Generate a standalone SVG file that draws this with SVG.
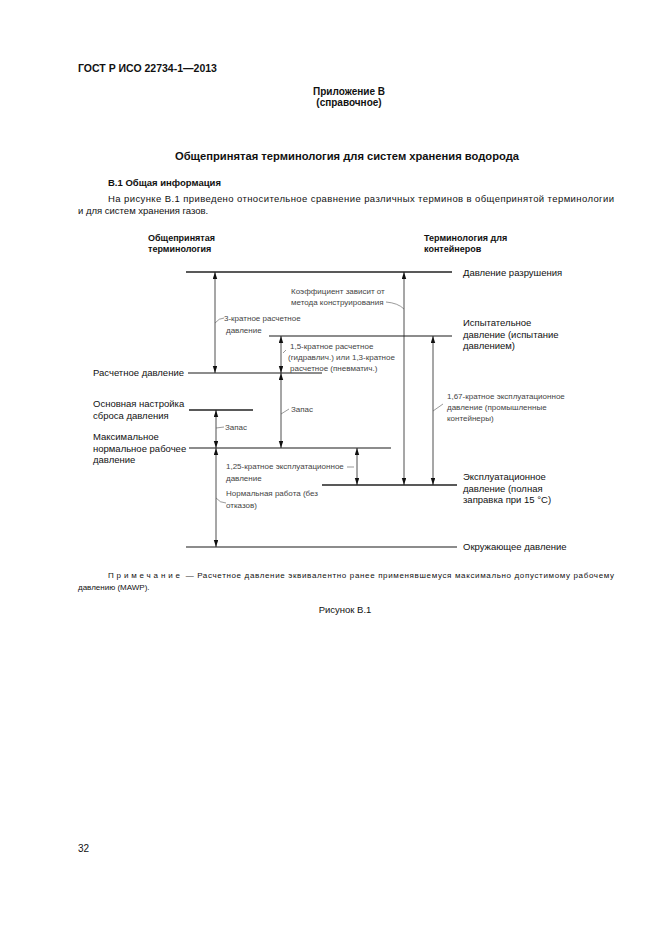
<svg xmlns="http://www.w3.org/2000/svg" width="661" height="935" viewBox="0 0 661 935">
<style>
text{font-family:"Liberation Sans",Arial,sans-serif;fill:#111}
.b{font-weight:bold}
.h{font-size:10px}
.n{font-size:9.5px}
.s{font-size:8px;fill:#444}
.lv{stroke:#222;stroke-width:1.4;fill:none}
.lg{stroke:#666;stroke-width:1.4;fill:none}
.ar{stroke:#222;stroke-width:0.8;fill:none;marker-start:url(#ah);marker-end:url(#ah)}
.ld{stroke:#555;stroke-width:0.6;fill:none}
</style>
<defs>
<marker id="ah" markerUnits="userSpaceOnUse" markerWidth="8" markerHeight="6" refX="7" refY="2.2" orient="auto-start-reverse">
<path d="M0,0 L7,2.2 L0,4.4 z" fill="#111"/>
</marker>
</defs>
<rect width="661" height="935" fill="#fff"/>
<g id="header">
<text x="78" y="72" class="b" font-size="10.5">ГОСТ Р ИСО 22734-1—2013</text>
<text x="349" y="95" class="b h" text-anchor="middle">Приложение В</text>
<text x="349" y="106" class="b h" text-anchor="middle">(справочное)</text>
<text x="347" y="160" class="b" font-size="10.5" text-anchor="middle" textLength="344" lengthAdjust="spacingAndGlyphs">Общепринятая терминология для систем хранения водорода</text>
<text x="108" y="186" class="b n">В.1 Общая информация</text>
<text x="108" y="202" class="n" textLength="506" lengthAdjust="spacing">На рисунке В.1 приведено относительное сравнение различных терминов в общепринятой терминологии</text>
<text x="78" y="214" class="n">и для систем хранения газов.</text>
</g>
<g id="col-left-title"><text x="148" y="241" class="b" font-size="9"><tspan x="148">Общепринятая</tspan><tspan x="148" dy="11">терминология</tspan></text></g>
<g id="col-right-title"><text x="424" y="241" class="b" font-size="9"><tspan x="424">Терминология для</tspan><tspan x="424" dy="11">контейнеров</tspan></text></g>
<g id="burst">
<line x1="186" y1="272" x2="452" y2="272" class="lv"/>
<text x="463" y="276" class="n">Давление разрушения</text>
</g>
<g id="test">
<line x1="269" y1="336" x2="452" y2="336" class="lg"/>
<text x="463" y="326" class="n"><tspan x="463">Испытательное</tspan><tspan x="463" dy="11.5">давление (испытание</tspan><tspan x="463" dy="11.5">давлением)</tspan></text>
</g>
<g id="design">
<line x1="188" y1="373" x2="322" y2="373" class="lg"/>
<text x="93" y="376" class="n">Расчетное давление</text>
</g>
<g id="relief">
<line x1="189" y1="410" x2="253" y2="410" class="lv"/>
<text x="93" y="407" class="n"><tspan x="93">Основная настройка</tspan><tspan x="93" dy="11.5">сброса давления</tspan></text>
</g>
<g id="mnop">
<line x1="189" y1="448" x2="391" y2="448" class="lg"/>
<text x="93" y="440" class="n"><tspan x="93">Максимальное</tspan><tspan x="93" dy="11.5">нормальное рабочее</tspan><tspan x="93" dy="11.5">давление</tspan></text>
</g>
<g id="service">
<line x1="322" y1="485" x2="457" y2="485" class="lv"/>
<text x="463" y="480" class="n"><tspan x="463">Эксплуатационное</tspan><tspan x="463" dy="11.5">давление (полная</tspan><tspan x="463" dy="11.5">заправка при 15 °С)</tspan></text>
</g>
<g id="ambient">
<line x1="186" y1="547" x2="457" y2="547" class="lg"/>
<text x="463" y="550" class="n">Окружающее давление</text>
</g>
<g id="connectors">
<line x1="215" y1="272" x2="215" y2="373" class="ar"/>
<line x1="404" y1="272" x2="404" y2="485" class="ar"/>
<line x1="281" y1="336" x2="281" y2="373" class="ar"/>
<line x1="281" y1="373" x2="281" y2="448" class="ar"/>
<line x1="216" y1="410" x2="216" y2="448" class="ar"/>
<line x1="216" y1="448" x2="216" y2="547" class="ar"/>
<line x1="357" y1="448" x2="357" y2="485" class="ar"/>
<line x1="433" y1="336" x2="433" y2="485" class="ar"/>
<path d="M215,323 Q219,318 224,318" class="ld"/>
<path d="M386,302 Q398,303 404,309" class="ld"/>
<path d="M283,353 L286,350" class="ld"/>
<path d="M281,414 L289,409" class="ld"/>
<path d="M216,428 L224,427" class="ld"/>
<path d="M216,498 Q220,503 226,503" class="ld"/>
<path d="M347,467 L354,467" class="ld"/>
<path d="M433,411 L443,404" class="ld"/>
</g>
<g id="labels">
<text x="224" y="321" class="s"><tspan x="224">3-кратное расчетное</tspan><tspan x="226" dy="11.5">давление</tspan></text>
<text x="291" y="294" class="s"><tspan x="291">Коэффициент зависит от</tspan><tspan x="291" dy="11">метода конструирования</tspan></text>
<text x="290" y="349" class="s"><tspan x="290">1,5-кратное расчетное</tspan><tspan x="288" dy="11">(гидравлич.) или 1,3-кратное</tspan><tspan x="290" dy="11">расчетное (пневматич.)</tspan></text>
<text x="291" y="412" class="s">Запас</text>
<text x="225" y="430" class="s">Запас</text>
<text x="226" y="469" class="s"><tspan x="226">1,25-кратное эксплуатационное</tspan><tspan x="226" dy="11.5">давление</tspan></text>
<text x="226" y="496" class="s"><tspan x="226">Нормальная работа (без</tspan><tspan x="226" dy="11.5">отказов)</tspan></text>
<text x="447" y="399" class="s"><tspan x="447">1,67-кратное эксплуатационное</tspan><tspan x="447" dy="11">давление (промышленные</tspan><tspan x="447" dy="11">контейнеры)</tspan></text>
</g>
<g id="footer">
<text x="108" y="578" font-size="8" textLength="506" lengthAdjust="spacing"><tspan letter-spacing="2.2">Примечание</tspan> — Расчетное давление эквивалентно ранее применявшемуся максимально допустимому рабочему</text>
<text x="78" y="590" font-size="8">давлению (MAWP).</text>
<text x="345" y="613" class="n" text-anchor="middle">Рисунок В.1</text>
<text x="78" y="852" font-size="10">32</text>
</g>
</svg>
